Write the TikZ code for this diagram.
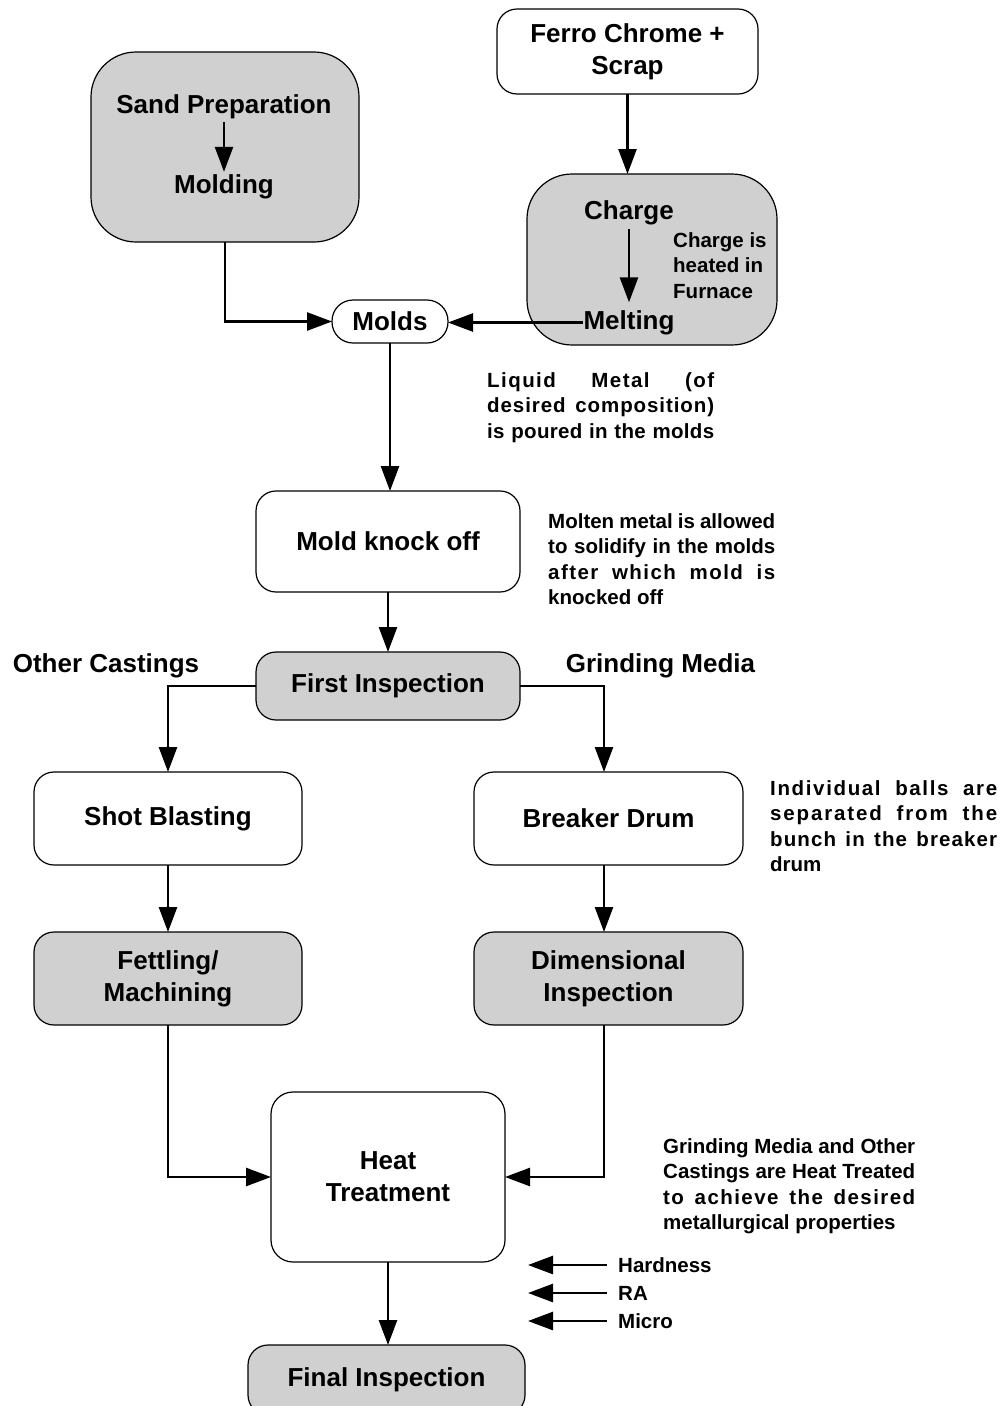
\documentclass[tikz,border=0pt]{standalone}
\usepackage{fontspec}
\setmainfont{Liberation Sans}
\usetikzlibrary{arrows.meta}
\definecolor{boxgray}{RGB}{208,208,208}
\newcommand{\fsz}[2]{\fontsize{#1}{#2}\selectfont}
\newcommand{\jline}[1]{\makebox[227pt][s]{#1}}
\newcommand{\jls}[3]{\makebox[#1][s]{\addfontfeatures{LetterSpace=#2}#3}}
\begin{document}
\begin{tikzpicture}[x=1pt,y=-1pt,
  box/.style={draw, line width=1.2pt, rounded corners=20pt, align=center, font=\bfseries\fsz{26}{32}, inner sep=0pt, outer sep=0pt},
  gbox/.style={box, fill=boxgray},
  arr/.style={line width=2.6pt, -{Triangle[length=25pt,width=18pt]}},
  txt/.style={font=\bfseries\fsz{26}{32}, inner sep=0pt, outer sep=0pt},
  note/.style={font=\bfseries\fsz{20.5}{25.6}, align=left, inner sep=0pt, anchor=north west},
  lbl/.style={font=\bfseries\fsz{20.5}{25.6}, anchor=west, inner xsep=11pt, inner ysep=0pt}]
\useasboundingbox (0,0) rectangle (1004,1406);

% top boxes
\node[box, minimum width=261pt, minimum height=85pt] (ferro) at (627.5,51.5) {Ferro Chrome +\\Scrap};
\node[gbox, rounded corners=45pt, minimum width=268pt, minimum height=190pt] (sand) at (225,147) {};
\node[txt, inner ysep=3pt] (sandp) at (224,107) {Sand Preparation};
\node[txt, inner ysep=3pt] (molding) at (224,187) {Molding};
\draw[arr] (sandp.south) -- (molding.north);

\node[gbox, rounded corners=45pt, minimum width=250pt, minimum height=171pt] (charge) at (652,259.5) {};
\node[txt, inner ysep=4pt] (chargetxt) at (629,213) {Charge};
\node[txt, inner xsep=1pt, inner ysep=8pt] (melting) at (629,322.5) {Melting};
\draw[arr] (chargetxt.south) -- (chargetxt.south |- melting.north);
\node[note] (heated) at (673,232) {Charge is\\heated in\\Furnace};

\draw[arr] (ferro.south) -- (ferro.south |- charge.north);

\node[box, rounded corners=21pt, minimum width=116pt, minimum height=43pt] (molds) at (390,321.5) {Molds};
\draw[arr] (sand.south) |- (molds.west);
\draw[arr] (melting.west) -- (melting.west -| molds.east);

\node[note] (liquid) at (487,372) {\jls{227pt}{7}{Liquid Metal (of}\\\jls{227pt}{4.5}{desired composition)}\\\jls{227pt}{1.5}{is poured in the molds}};

\node[box, minimum width=264pt, minimum height=101pt] (knock) at (388,541.5) {Mold knock off};
\draw[arr] (molds.south) -- (molds.south |- knock.north);
\node[note] (molten) at (548,513) {\jline{Molten metal is allowed}\\\jline{to solidify in the molds}\\\jls{227pt}{7}{after which mold is}\\knocked off};

\node[gbox, minimum width=264pt, minimum height=68pt] (first) at (388,686) {First Inspection};
\draw[arr] (knock.south) -- (knock.south |- first.north);

\node[txt] (other) at (106,666) {Other Castings};
\node[txt] (grind) at (660.5,666) {Grinding Media};

\node[box, minimum width=268pt, minimum height=93pt] (shot) at (168,818.5) {Shot Blasting};
\node[box, minimum width=269pt, minimum height=93pt] (breaker) at (608.5,818.5) {Breaker Drum};
\draw[arr] (first.west) -| (shot.north);
\draw[arr] (first.east) -| ([xshift=-4.5pt]breaker.north);
\node[note] (indiv) at (770,780) {\jls{227pt}{8}{Individual balls are}\\\jls{227pt}{9}{separated from the}\\\jls{227pt}{5.5}{bunch in the breaker}\\drum};

\node[gbox, minimum width=268pt, minimum height=93pt] (fet) at (168,978.5) {Fettling/\\Machining};
\node[gbox, minimum width=269pt, minimum height=93pt] (dim) at (608.5,978.5) {Dimensional\\Inspection};
\draw[arr] (shot.south) -- (fet.north);
\draw[arr] ([xshift=-4.5pt]breaker.south) -- ([xshift=-4.5pt]dim.north);

\node[box, rounded corners=22pt, minimum width=234pt, minimum height=170pt] (heat) at (388,1177) {Heat\\Treatment};
\draw[arr] (fet.south) |- (heat.west);
\draw[arr] ([xshift=-4.5pt]dim.south) |- (heat.east);
\node[note] (gmnote) at (663,1138) {\makebox[252pt][s]{Grinding Media and Other}\\\makebox[252pt][s]{Castings are Heat Treated}\\\jls{252pt}{7}{to achieve the desired}\\metallurgical properties};

\node[lbl] (hard) at (607,1265) {Hardness};
\node[lbl] (ra) at (607,1293) {RA};
\node[lbl] (micro) at (607,1321) {Micro};
\coordinate (hardtip) at (528,1265);
\coordinate (ratip) at (528,1293);
\coordinate (microtip) at (528,1321);
\draw[arr] (hard.west) -- (hardtip);
\draw[arr] (ra.west) -- (ratip);
\draw[arr] (micro.west) -- (microtip);

\node[gbox, minimum width=277pt, minimum height=70pt] (final) at (386.5,1380) {Final Inspection};
\draw[arr] (heat.south) -- (heat.south |- final.north);
\end{tikzpicture}
\end{document}
